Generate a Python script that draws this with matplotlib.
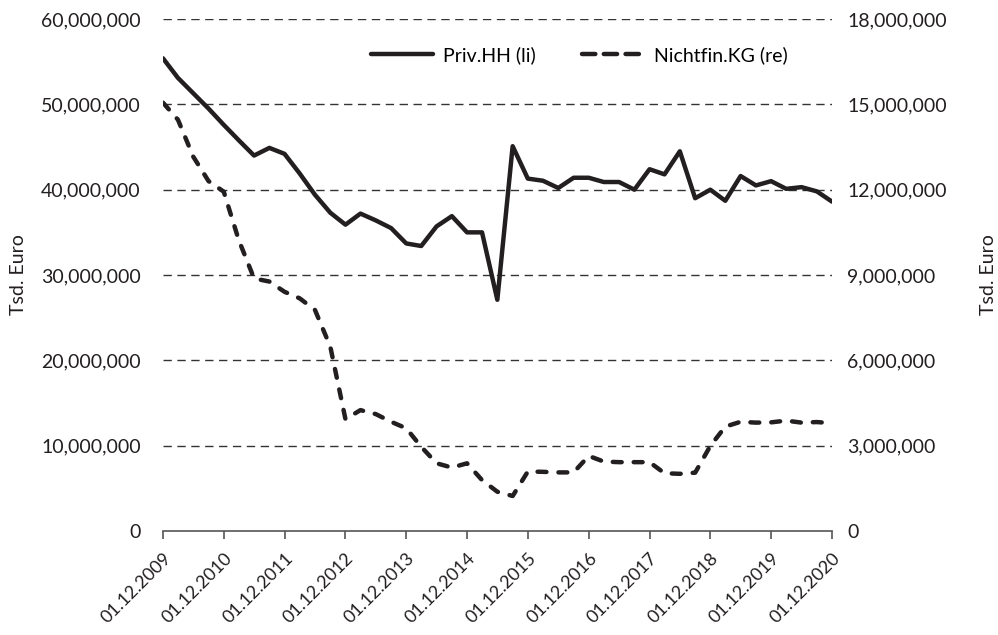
import matplotlib
matplotlib.use("Agg")
import matplotlib.pyplot as plt
import matplotlib.ticker as mticker
from matplotlib.lines import Line2D
import pandas as pd

plt.rcParams["font.family"] = ["Lato", "DejaVu Sans"]

# Quartalsdaten 01.12.2009 - 01.12.2020
dates = pd.date_range("2009-12-01", "2020-12-01", freq="3MS")

# Private Haushalte (linke Achse, Tsd. Euro)
priv_hh = [55.4, 53.1, 51.3, 49.5, 47.6, 45.8, 44.0, 44.9, 44.2, 41.9,
           39.4, 37.3, 35.9, 37.2, 36.4, 35.5, 33.7, 33.4, 35.7, 36.9,
           35.0, 35.0, 27.1, 45.1, 41.3, 41.05, 40.2, 41.4, 41.4, 40.9,
           40.9, 40.0, 42.4, 41.8, 44.5, 39.0, 40.0, 38.7, 41.6, 40.5,
           41.0, 40.1, 40.3, 39.8, 38.6]
priv_hh = [v * 1e6 for v in priv_hh]

# Nichtfinanzielle Kapitalgesellschaften (rechte Achse, Tsd. Euro)
nichtfin_kg = [15.06, 14.46, 13.16, 12.3, 11.93, 10.23, 8.88, 8.77, 8.41, 8.18,
               7.77, 6.48, 3.93, 4.25, 4.11, 3.84, 3.61, 2.96, 2.38, 2.23,
               2.38, 1.79, 1.38, 1.23, 2.09, 2.08, 2.06, 2.06, 2.64, 2.44,
               2.42, 2.42, 2.42, 2.03, 2.01, 2.05, 2.99, 3.67, 3.84, 3.81,
               3.82, 3.88, 3.81, 3.83, 3.79]
nichtfin_kg = [v * 1e6 for v in nichtfin_kg]

farbe = "#231f20"
fs = 14

fig = plt.figure(figsize=(9.98, 6.35), dpi=100)
ax = fig.add_axes([0.1633, 0.1638, 0.6704, 0.8062])
ax2 = ax.twinx()

# Gitterlinien
for v in range(10_000_000, 60_000_001, 10_000_000):
    ax.axhline(v, color="#333333", lw=1.0, dashes=(6, 4), zorder=0)

l1, = ax.plot(dates, priv_hh, color=farbe, lw=3.2, solid_joinstyle="round",
              solid_capstyle="round")
l2, = ax2.plot(dates, nichtfin_kg, color=farbe, lw=3.2, dash_capstyle="round",
               dash_joinstyle="round")
l2.set_dashes([2.0, 2.7])

ax.set_xlim(dates[0], dates[-1])
ax.set_ylim(0, 60_000_000)
ax2.set_ylim(0, 18_000_000)
ax.set_yticks(range(0, 60_000_001, 10_000_000))
ax2.set_yticks(range(0, 18_000_001, 3_000_000))
fmt = mticker.FuncFormatter(lambda v, p: f"{v:,.0f}")
ax.yaxis.set_major_formatter(fmt)
ax2.yaxis.set_major_formatter(fmt)

ticks = dates[::4]
ax.set_xticks(ticks)
ax.set_xticklabels([d.strftime("%d.%m.%Y") for d in ticks], rotation=45,
                   ha="right", va="top", rotation_mode="anchor")

for a in (ax, ax2):
    for s in ("top", "left", "right", "bottom"):
        a.spines[s].set_visible(False)
ax.spines["bottom"].set_visible(True)
ax.spines["bottom"].set_color("#555555")
ax.spines["bottom"].set_linewidth(1.2)

ax.tick_params(axis="y", length=0, pad=16, labelsize=fs, colors=farbe)
ax2.tick_params(axis="y", length=0, pad=11, labelsize=fs, colors=farbe)
ax.tick_params(axis="x", length=6, width=1.2, color="#555555", pad=8,
               labelsize=13, labelcolor=farbe)

ax.set_ylabel("Tsd. Euro", fontsize=fs, color=farbe, labelpad=10)
ax2.set_ylabel("Tsd. Euro", fontsize=fs, color=farbe, labelpad=24,
               rotation=90)

# Legende mit längeren Strichen wie im Original
h1 = Line2D([], [], color=farbe, lw=3.2, solid_capstyle="round")
h2 = Line2D([], [], color=farbe, lw=3.2, dash_capstyle="round")
h2.set_dashes([3.0, 1.9])
ax.legend(handles=[h1, h2], labels=["Priv.HH (li)", "Nichtfin.KG (re)"],
          loc="center", bbox_to_anchor=(0.622, 0.93), ncol=2, frameon=False,
          fontsize=fs, handlelength=3.2, columnspacing=2.4, handletextpad=0.5)

fig.savefig("out.png", dpi=100)
